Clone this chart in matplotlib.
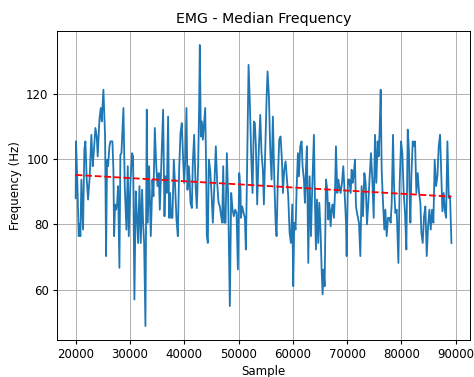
import numpy as np
import matplotlib
matplotlib.use("Agg")
import matplotlib.pyplot as plt

samples = [
    20000, 20070, 20310, 20560, 20740, 20870, 21050, 21360, 21600, 21790,
    22040, 22280, 22590, 22890, 23140, 23330, 23630, 23880, 24060, 24370,
    24620, 24800, 25110, 25290, 25420, 25600, 25780, 25970, 26220, 26400,
    26770, 26950, 27080, 27260, 27440, 27630, 27810, 28060, 28240, 28430,
    28800, 29040, 29350, 29600, 29780,
    30090, 30390, 30580, 30820, 31070, 31260, 31500, 31750, 31990, 32240,
    32420, 32610, 32850, 33100, 33280, 33530, 33840, 34140, 34330, 34580,
    34820, 35070, 35310, 35500, 35680, 35870, 36110, 36360, 36540, 36790,
    37030, 37220, 37400, 37590, 37830, 38080, 38320, 38570, 38820, 39060,
    39310, 39550, 39800,
    39980, 40170, 40410, 40600, 40780, 40970, 41150, 41400, 41580, 41830,
    42070, 42320, 42570, 42750, 42870, 43060, 43240, 43430, 43670, 43860,
    44040, 44160, 44350, 44530, 44780, 45020, 45270, 45520, 45820, 46070,
    46320, 46560, 46800, 46990, 47180, 47360, 47610, 47850, 48100, 48400,
    48650, 48900, 49140, 49390, 49640, 49880, 50130, 50370,
    50430, 50680, 50930, 51170, 51350, 51540, 51850, 52090, 52340, 52580,
    52830, 53010, 53200, 53440, 53690, 54000, 54240, 54490, 54670, 54920,
    55170, 55350, 55600, 55840, 56090, 56330, 56580, 56830, 57010, 57260,
    57500, 57750, 57990, 58180, 58420, 58670, 58920, 59160, 59410, 59650,
    59900, 60080, 60270, 60510,
    60700, 60940, 61130, 61370, 61620, 61800, 62050, 62230, 62420, 62600,
    62850, 63100, 63340, 63590, 63890, 64080, 64260, 64450, 64690, 64880,
    65120, 65310, 65490, 65680, 65860, 66110, 66350, 66540, 66720, 66970,
    67150, 67340, 67580, 67770, 67950, 68200, 68380, 68570, 68810, 69060,
    69300, 69550, 69800, 69920, 70160, 70410, 70660, 70840,
    71020, 71210, 71450, 71640, 71880, 72190, 72440, 72680, 72930, 73180,
    73420, 73670, 73910, 74160, 74400, 74650, 74900, 75140, 75390, 75630,
    75820, 76000, 76190, 76370, 76620, 76860, 77050, 77290, 77540, 77790,
    78030, 78220, 78460, 78650, 78890, 79140, 79260, 79450, 79690, 79940,
    80180, 80430, 80670, 80920, 81170, 81410,
    81290, 81470, 81660, 81840, 82090, 82330, 82520, 82760, 83010, 83260,
    83500, 83690, 83930, 84180, 84420, 84670, 84920, 85160, 85410, 85650,
    85900, 86140, 86390, 86640, 86880, 87130, 87370, 87560, 87800, 87990,
    88230, 88480, 88730, 88970, 89220,
]

median_freq = [
    88.0, 105.4, 92.7, 76.4, 80.0, 76.4, 93.7, 78.4, 102.9, 105.4,
    93.7, 87.6, 94.7, 107.4, 97.8, 101.8, 109.5, 106.9, 100.8, 112.0,
    115.6, 111.5, 121.2, 113.0, 106.9, 70.3, 99.8, 97.8, 103.9, 105.4,
    105.4, 96.7, 76.4, 86.1, 84.5, 86.1, 91.7, 66.7, 101.3, 101.8,
    115.6, 91.7, 78.4, 97.8, 76.4,
    92.7, 101.8, 100.8, 57.0, 90.1, 83.5, 74.3, 91.7, 74.3, 90.6,
    80.5, 74.3, 48.9, 115.1, 80.5, 97.8, 76.4, 93.7, 88.6, 109.5,
    98.8, 91.7, 95.7, 84.5, 93.7, 103.9, 115.1, 82.5, 94.7, 89.6,
    113.0, 82.0, 89.6, 82.0, 82.0, 99.8, 91.7, 81.5, 76.4, 96.7,
    107.9, 111.0, 99.8,
    92.7, 98.8, 115.6, 90.6, 97.8, 94.7, 86.6, 85.0, 98.8, 107.4,
    92.7, 85.0, 98.8, 117.1, 134.9, 106.9, 111.5, 105.9, 111.5, 115.6,
    96.7, 76.4, 74.3, 99.8, 96.7, 89.6, 80.5, 90.6, 103.9, 92.7,
    86.6, 85.5, 82.5, 80.5, 97.8, 80.5, 80.5, 101.8, 87.6, 55.0,
    89.6, 84.5, 82.5, 84.5, 83.5, 66.2, 95.7, 90.6,
    82.0, 85.5, 83.5, 82.0, 72.3, 92.7, 128.8, 117.1, 100.8, 89.6,
    111.5, 111.0, 103.9, 86.1, 100.8, 113.5, 101.8, 96.7, 86.1, 101.8,
    118.6, 126.8, 119.1, 102.9, 93.7, 113.0, 94.7, 80.5, 76.4, 94.7,
    105.9, 106.9, 99.8, 89.6, 96.7, 99.3, 93.7, 88.6, 77.4, 74.3,
    86.1, 61.1, 80.5, 78.4,
    90.6, 101.8, 94.7, 103.9, 105.4, 97.8, 93.7, 86.6, 96.7, 103.9,
    68.2, 94.7, 76.4, 91.7, 107.4, 86.6, 72.3, 87.6, 74.3, 86.6,
    77.4, 66.2, 58.6, 66.2, 61.1, 93.7, 90.6, 81.5, 86.6, 79.4,
    84.5, 86.1, 82.0, 89.6, 103.9, 89.6, 93.7, 91.7, 89.6, 92.7,
    97.8, 89.6, 80.5, 70.3, 93.7, 93.7, 89.6, 96.7,
    92.7, 94.7, 99.8, 85.5, 83.0, 80.5, 70.3, 91.7, 82.5, 95.7,
    92.7, 80.0, 86.6, 94.7, 101.8, 93.7, 82.0, 107.4, 92.7, 105.4,
    100.8, 109.0, 121.2, 96.7, 86.6, 78.4, 84.5, 76.4, 82.0, 82.0,
    80.5, 86.6, 107.4, 91.7, 83.5, 84.5, 78.4, 68.2, 92.7, 105.4,
    101.8, 89.6, 83.5, 72.3, 109.0, 101.8,
    105.9, 91.7, 80.5, 94.7, 105.4, 103.9, 105.4, 89.6, 95.7, 89.6,
    86.6, 77.4, 74.3, 82.5, 85.5, 70.3, 79.4, 84.5, 78.4, 84.5,
    80.5, 99.8, 91.7, 94.7, 103.9, 107.4, 94.7, 84.0, 89.6, 84.5,
    82.0, 105.4, 88.1, 88.6, 74.3,
]

title = "EMG - Median Frequency"
x_label = "Sample"
y_label = "Frequency (Hz)"
y_ticks = [60, 80, 100, 120]

x = np.array(samples, dtype=float)
y = np.array(median_freq, dtype=float)
order = np.argsort(x, kind="stable")
x = x[order]
y = y[order]

coef = np.polyfit(x, y, 1)
trend = np.polyval(coef, x)

fig = plt.figure(figsize=(4.74, 3.77), dpi=100)
ax = fig.add_subplot(111)
fig.subplots_adjust(left=0.12, right=0.992, bottom=0.098, top=0.918)
ax.plot(x, y, color="#1f77b4", linewidth=1.3)
ax.plot(x, trend, "r--", linewidth=1.3)
ax.set_title(title, fontsize=10.2)
ax.set_xlabel(x_label, fontsize=8.5, labelpad=2.5)
ax.set_ylabel(y_label, fontsize=8.5, labelpad=3)
ax.set_yticks(y_ticks)
ax.tick_params(labelsize=8.5, length=3, pad=3)
ax.grid(True, linewidth=0.7)
for s in ax.spines.values():
    s.set_linewidth(0.7)
fig.savefig("out.png", dpi=100)
